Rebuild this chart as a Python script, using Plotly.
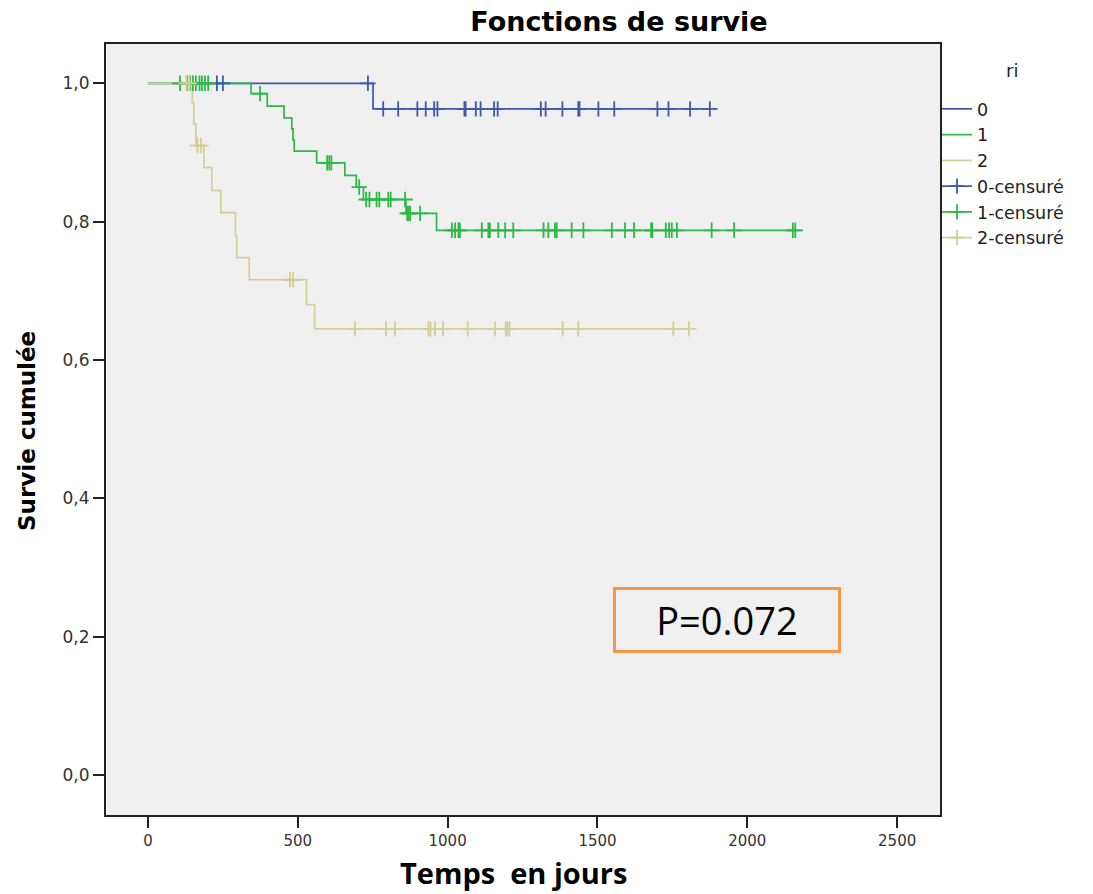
import plotly.graph_objects as go

# ---- data (Kaplan-Meier, groups of "ri") ----
groups = ["0", "1", "2"]
colors = ["#3E58AC", "#2EB848", "#D3CE97"]

# event times (days) and survival after each event
event_t0 = [751]
surv_0 = [0.963]
end_0 = 1875
cens_0 = [230, 250, 734, 785, 835, 899, 927, 955, 966, 1056, 1060, 1094, 1110,
          1155, 1167, 1311, 1327, 1383, 1436, 1440, 1503, 1556, 1700, 1737,
          1809, 1875]

event_t1 = [344, 398, 454, 480, 484, 488, 563, 657, 695, 719, 861, 963]
surv_1 = [0.985, 0.967, 0.950, 0.934, 0.918, 0.902, 0.885, 0.867, 0.850,
          0.832, 0.812, 0.7875]
end_1 = 2160
cens_1 = [107, 130, 140, 150, 160, 172, 180, 190, 201, 374, 598, 605, 612,
          705, 728, 739, 763, 772, 802, 810, 858, 865, 870, 875, 908,
          1014, 1025, 1036, 1041, 1114, 1136, 1141, 1169, 1192, 1219, 1320,
          1336, 1358, 1364, 1414, 1453, 1548, 1592, 1622, 1679, 1683, 1728,
          1739, 1748, 1765, 1881, 1956, 2152, 2160]

event_t2 = [148, 153, 160, 187, 213, 243, 292, 296, 338, 529, 556]
surv_2 = [0.972, 0.941, 0.910, 0.878, 0.845, 0.813, 0.780, 0.748, 0.716,
          0.680, 0.645]
end_2 = 1805
cens_2 = [128, 138, 165, 177, 474, 484, 691, 794, 824, 936, 943, 958, 985,
          1067, 1158, 1194, 1199, 1206, 1384, 1436, 1753, 1805]

x_ticks = [0, 500, 1000, 1500, 2000, 2500]
y_ticks = [0.0, 0.2, 0.4, 0.6, 0.8, 1.0]
y_tick_text = ["0,0", "0,2", "0,4", "0,6", "0,8", "1,0"]

events = [(event_t0, surv_0, end_0, cens_0),
          (event_t1, surv_1, end_1, cens_1),
          (event_t2, surv_2, end_2, cens_2)]


def surv_at(t, et, sv):
    s = 1.0
    for ti, si in zip(et, sv):
        if ti <= t:
            s = si
    return s


fig = go.Figure()

# step curves
for g, col, (et, sv, end, cs) in zip(groups, colors, events):
    xs = [0] + list(et) + [end]
    ys = [1.0] + list(sv) + [sv[-1]]
    fig.add_trace(go.Scatter(x=xs, y=ys, mode="lines", line_shape="hv",
                             line=dict(color=col, width=1.7), name=g))

# censor marks
for g, col, (et, sv, end, cs) in zip(groups, colors, events):
    xs, ys = [], []
    for c in cs:
        xs += [c, None]
        ys += [surv_at(c, et, sv), None]
    fig.add_trace(go.Scatter(x=xs, y=ys, mode="lines+markers", connectgaps=False,
                             line=dict(color=col, width=1.7),
                             marker=dict(symbol="cross-thin", size=11,
                                         line=dict(color=col, width=1.8)),
                             name=g + "-censuré"))

W, H = 1093, 894
L, R, T, B = 106, 153, 44, 79
pw, ph = W - L - R, H - T - B


def px2paper(x, y):
    return (x - L) / pw, (H - B - y) / ph


# P-value box
bx, by = px2paper(727, 620)
fig.add_annotation(x=bx, y=by, xref="paper", yref="paper", xanchor="center",
                   yanchor="middle", text="P=0.072", showarrow=False,
                   font=dict(family="Open Sans", size=38, color="black"),
                   bordercolor="#F79646", borderwidth=3, width=220, height=58,
                   bgcolor="rgba(0,0,0,0)")

# axis titles
tx, ty = px2paper(513, 872)
fig.add_annotation(x=tx, y=ty, xref="paper", yref="paper", xanchor="center",
                   yanchor="middle", text="<b>Temps\u00a0 en jours</b>", showarrow=False,
                   font=dict(family="Open Sans", size=29, color="black"))
yx, yy = px2paper(27, 431)
fig.add_annotation(x=yx, y=yy, xref="paper", yref="paper", xanchor="center",
                   yanchor="middle", text="<b>Survie cumulée</b>", showarrow=False,
                   textangle=-90,
                   font=dict(family="DejaVu Sans", size=23, color="black"))
# legend title
lx, ly = px2paper(1012, 70)
fig.add_annotation(x=lx, y=ly, xref="paper", yref="paper", xanchor="center",
                   yanchor="middle", text="ri", showarrow=False,
                   font=dict(family="DejaVu Sans", size=18, color="#222"))

fig.update_layout(
    width=W, height=H,
    margin=dict(l=L, r=R, t=T, b=B),
    paper_bgcolor="white", plot_bgcolor="#F0F0F0",
    title=dict(text="<b>Fonctions de survie</b>", x=619 / W,
               xanchor="center", y=1 - 22 / H, yanchor="middle",
               font=dict(family="DejaVu Sans", size=27, color="black")),
    legend=dict(x=px2paper(937, 0)[0], xanchor="left", y=px2paper(0, 91)[1],
                yanchor="top",
                font=dict(family="DejaVu Sans", size=17.5, color="#222"),
                bgcolor="rgba(0,0,0,0)", tracegroupgap=0, itemwidth=30),
    showlegend=True,
)

fig.update_xaxes(range=[-140, 2643], tickvals=x_ticks,
                 ticktext=[str(v) for v in x_ticks],
                 ticks="outside", ticklen=11, tickwidth=2, tickcolor="#222",
                 showline=True, mirror=True, linecolor="#222", linewidth=2,
                 showgrid=False, zeroline=False,
                 tickfont=dict(family="DejaVu Sans", size=15, color="#333"))
fig.update_yaxes(range=[-0.0578, 1.0568], tickvals=y_ticks, ticktext=y_tick_text,
                 ticks="outside", ticklen=11, tickwidth=2, tickcolor="#222",
                 showline=True, mirror=True, linecolor="#222", linewidth=2,
                 showgrid=False, zeroline=False,
                 tickfont=dict(family="DejaVu Sans", size=17, color="#333"))

fig.write_html("out.html")
